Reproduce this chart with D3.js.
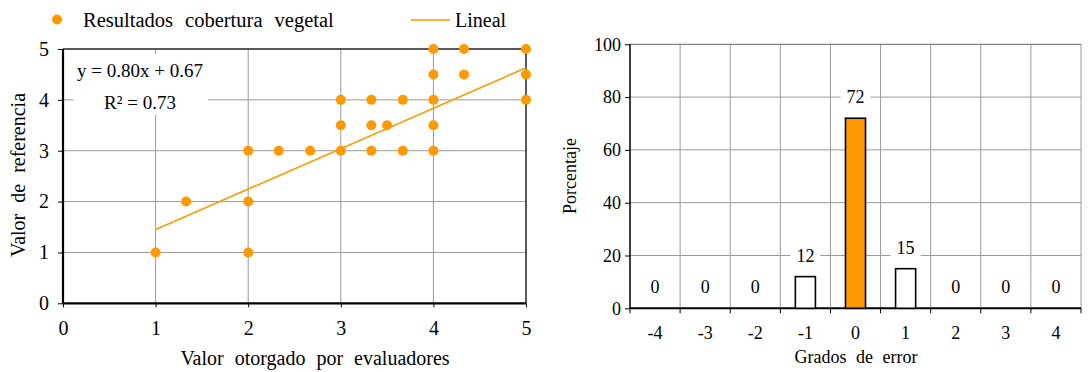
<!DOCTYPE html>
<html>
<head>
<meta charset="utf-8">
<script src="https://cdn.jsdelivr.net/npm/d3@7"></script>
<style>
  html, body { margin: 0; padding: 0; background: #fff; }
  svg text { font-family: "Liberation Serif", "Times New Roman", serif; fill: #000; }
</style>
</head>
<body>
<div id="chart"></div>
<script>
// datos: dispersión (valor otorgado vs valor de referencia)
const pointX = [1, 1.33, 2, 2, 2, 2.33, 2.67, 3, 3, 3, 3.33, 3.33, 3.33, 3.5, 3.67, 3.67, 4, 4, 4, 4, 4, 4.33, 4.33, 5, 5, 5];
const pointY = [1, 2, 1, 2, 3, 3, 3, 3, 3.5, 4, 3, 3.5, 4, 3.5, 3, 4, 3, 3.5, 4, 4.5, 5, 4.5, 5, 4, 4.5, 5];
const trendSlope = 0.795;
const trendIntercept = 0.655;
const equationLines = ["y = 0.80x + 0.67", "R² = 0.73"];
const scatterTicks = [0, 1, 2, 3, 4, 5];

// datos: histograma de grados de error
const errorCategories = ["-4", "-3", "-2", "-1", "0", "1", "2", "3", "4"];
const errorPercent = [0, 0, 0, 12, 72, 15, 0, 0, 0];
const percentTicks = [0, 20, 40, 60, 80, 100];

const orange = "#ff9900";
const gridColor = "#9a9a9a";

const svg = d3.select("#chart")
    .append("svg")
    .attr("width", 1088)
    .attr("height", 372);

// ---------- gráfico de dispersión ----------
const x = d3.scaleLinear().domain([0, 5]).range([63, 526]);
const y = d3.scaleLinear().domain([0, 5]).range([303.3, 49]);

const sc = svg.append("g");

// cuadrícula
sc.selectAll("line.vgrid")
    .data(scatterTicks.slice(1, 5))
    .join("line")
    .attr("x1", d => x(d)).attr("x2", d => x(d))
    .attr("y1", y(5)).attr("y2", y(0))
    .attr("stroke", gridColor).attr("stroke-width", 1);
sc.selectAll("line.hgrid")
    .data(scatterTicks.slice(1, 5))
    .join("line")
    .attr("x1", x(0)).attr("x2", x(5))
    .attr("y1", d => y(d)).attr("y2", d => y(d))
    .attr("stroke", gridColor).attr("stroke-width", 1);

// caja de la ecuación (fondo blanco)
sc.append("rect")
    .attr("x", 73).attr("y", 54)
    .attr("width", 135).attr("height", 61)
    .attr("fill", "#fff");

// bordes superior y derecho
sc.append("line")
    .attr("x1", x(0)).attr("x2", x(5)).attr("y1", y(5)).attr("y2", y(5))
    .attr("stroke", "#222").attr("stroke-width", 1.5);
sc.append("line")
    .attr("x1", x(5)).attr("x2", x(5)).attr("y1", y(5)).attr("y2", y(0))
    .attr("stroke", "#222").attr("stroke-width", 1.5);

// ejes
const xAxis = sc.append("g")
    .attr("transform", `translate(0,${y(0)})`)
    .call(d3.axisBottom(x).tickValues(scatterTicks).tickSize(4).tickPadding(14).tickFormat(d3.format("d")));
const yAxis = sc.append("g")
    .attr("transform", `translate(${x(0)},0)`)
    .call(d3.axisLeft(y).tickValues(scatterTicks).tickSize(5).tickPadding(9).tickFormat(d3.format("d")));
[xAxis, yAxis].forEach(a => {
    a.select(".domain").attr("stroke", "#000").attr("stroke-width", 2.2);
    a.selectAll(".tick line").attr("stroke", "#000").attr("stroke-width", 1);
    a.selectAll("text").attr("font-size", 20).attr("font-family", "Liberation Serif");
});
xAxis.select(".domain").attr("d", `M${x(0)},0H${x(5)}`);
yAxis.select(".domain").attr("d", `M0,${y(5)}V${y(0)}`);

// línea de tendencia
sc.append("line")
    .attr("x1", x(1)).attr("y1", y(trendSlope * 1 + trendIntercept))
    .attr("x2", x(5)).attr("y2", y(trendSlope * 5 + trendIntercept))
    .attr("stroke", orange).attr("stroke-width", 1.6);

// puntos
sc.selectAll("circle.pt")
    .data(pointX.map((v, i) => [v, pointY[i]]))
    .join("circle")
    .attr("cx", d => x(d[0]))
    .attr("cy", d => y(d[1]))
    .attr("r", 5)
    .attr("fill", orange);

// ecuación
sc.selectAll("text.eq")
    .data(equationLines)
    .join("text")
    .attr("x", 140)
    .attr("y", (d, i) => 76.7 + i * 32.6)
    .attr("text-anchor", "middle")
    .attr("font-size", 19)
    .text(d => d);

// títulos de ejes
sc.append("text")
    .attr("x", 315).attr("y", 365)
    .attr("text-anchor", "middle")
    .attr("font-size", 20)
    .attr("word-spacing", 6)
    .text("Valor otorgado por evaluadores");
sc.append("text")
    .attr("transform", "translate(25,175) rotate(-90)")
    .attr("text-anchor", "middle")
    .attr("font-size", 20)
    .attr("word-spacing", 6)
    .text("Valor de referencia");

// leyenda
sc.append("circle").attr("cx", 57).attr("cy", 19.5).attr("r", 5).attr("fill", orange);
sc.append("text")
    .attr("x", 83).attr("y", 26.7)
    .attr("font-size", 20.5)
    .attr("word-spacing", 7)
    .text("Resultados cobertura vegetal");
sc.append("line")
    .attr("x1", 411).attr("x2", 450).attr("y1", 20).attr("y2", 20)
    .attr("stroke", orange).attr("stroke-width", 1.6);
sc.append("text")
    .attr("x", 455).attr("y", 26.7)
    .attr("font-size", 20)
    .text("Lineal");

// ---------- histograma ----------
const bx = d3.scaleBand().domain(errorCategories).range([630, 1081]).padding(0);
const by = d3.scaleLinear().domain([0, 100]).range([308.3, 44.3]);
const bw = bx.bandwidth() * 0.4;

const bc = svg.append("g");

// cuadrícula vertical en los límites de categoría
bc.selectAll("line.vgrid")
    .data(errorCategories.slice(1))
    .join("line")
    .attr("x1", d => bx(d)).attr("x2", d => bx(d))
    .attr("y1", by(100)).attr("y2", by(0))
    .attr("stroke", gridColor);
bc.append("line")
    .attr("x1", 1081).attr("x2", 1081).attr("y1", by(100)).attr("y2", by(0))
    .attr("stroke", gridColor);
bc.selectAll("line.hgrid")
    .data(percentTicks.slice(1))
    .join("line")
    .attr("x1", 630).attr("x2", 1081)
    .attr("y1", d => by(d)).attr("y2", d => by(d))
    .attr("stroke", d => d === 100 ? "#666" : gridColor);

// eje y
const byAxis = bc.append("g")
    .attr("transform", "translate(630,0)")
    .call(d3.axisLeft(by).tickValues(percentTicks).tickSize(5).tickPadding(4));
byAxis.select(".domain").attr("d", `M0,${by(100)}V${by(0)}`).attr("stroke", "#000").attr("stroke-width", 1.5);
byAxis.selectAll(".tick line").attr("stroke", "#000");
byAxis.selectAll("text").attr("font-size", 18).attr("font-family", "Liberation Serif");

// eje x (etiquetas centradas, marcas en los límites)
const bxAxis = bc.append("g")
    .attr("transform", `translate(0,${by(0)})`)
    .call(d3.axisBottom(bx).tickSize(0).tickPadding(17.5));
bxAxis.select(".domain").attr("d", "M630,0H1081").attr("stroke", "#000").attr("stroke-width", 2);
bxAxis.selectAll("text").attr("font-size", 18).attr("font-family", "Liberation Serif");
bc.selectAll("line.xtick")
    .data(errorCategories.concat(["end"]))
    .join("line")
    .attr("x1", (d, i) => i < errorCategories.length ? bx(d) : 1081)
    .attr("x2", (d, i) => i < errorCategories.length ? bx(d) : 1081)
    .attr("y1", by(0)).attr("y2", by(0) + 5)
    .attr("stroke", "#000");

// barras
const bars = errorCategories.map((c, i) => ({ c, v: errorPercent[i] }));
bc.selectAll("rect.bar")
    .data(bars.filter(d => d.v > 0))
    .join("rect")
    .attr("x", d => bx(d.c) + (bx.bandwidth() - bw) / 2)
    .attr("y", d => by(d.v))
    .attr("width", bw)
    .attr("height", d => by(0) - by(d.v))
    .attr("fill", d => d.c === "0" ? orange : "#fff")
    .attr("stroke", "#000")
    .attr("stroke-width", 1.6);

// etiquetas de datos con fondo blanco
const lab = bc.selectAll("g.lab")
    .data(bars)
    .join("g")
    .attr("transform", d => `translate(${bx(d.c) + bx.bandwidth() / 2},${by(d.v) - 21})`);
lab.filter(d => d.v > 0).append("rect")
    .attr("x", -15).attr("y", -11)
    .attr("width", 30).attr("height", 22)
    .attr("fill", "#fff");
lab.append("text")
    .attr("text-anchor", "middle")
    .attr("dy", "0.34em")
    .attr("font-size", 18)
    .text(d => d.v);

// títulos
bc.append("text")
    .attr("x", 856).attr("y", 363)
    .attr("text-anchor", "middle")
    .attr("font-size", 18)
    .attr("word-spacing", 5)
    .text("Grados de error");
bc.append("text")
    .attr("transform", "translate(576,176) rotate(-90)")
    .attr("text-anchor", "middle")
    .attr("font-size", 18)
    .text("Porcentaje");
</script>
</body>
</html>
